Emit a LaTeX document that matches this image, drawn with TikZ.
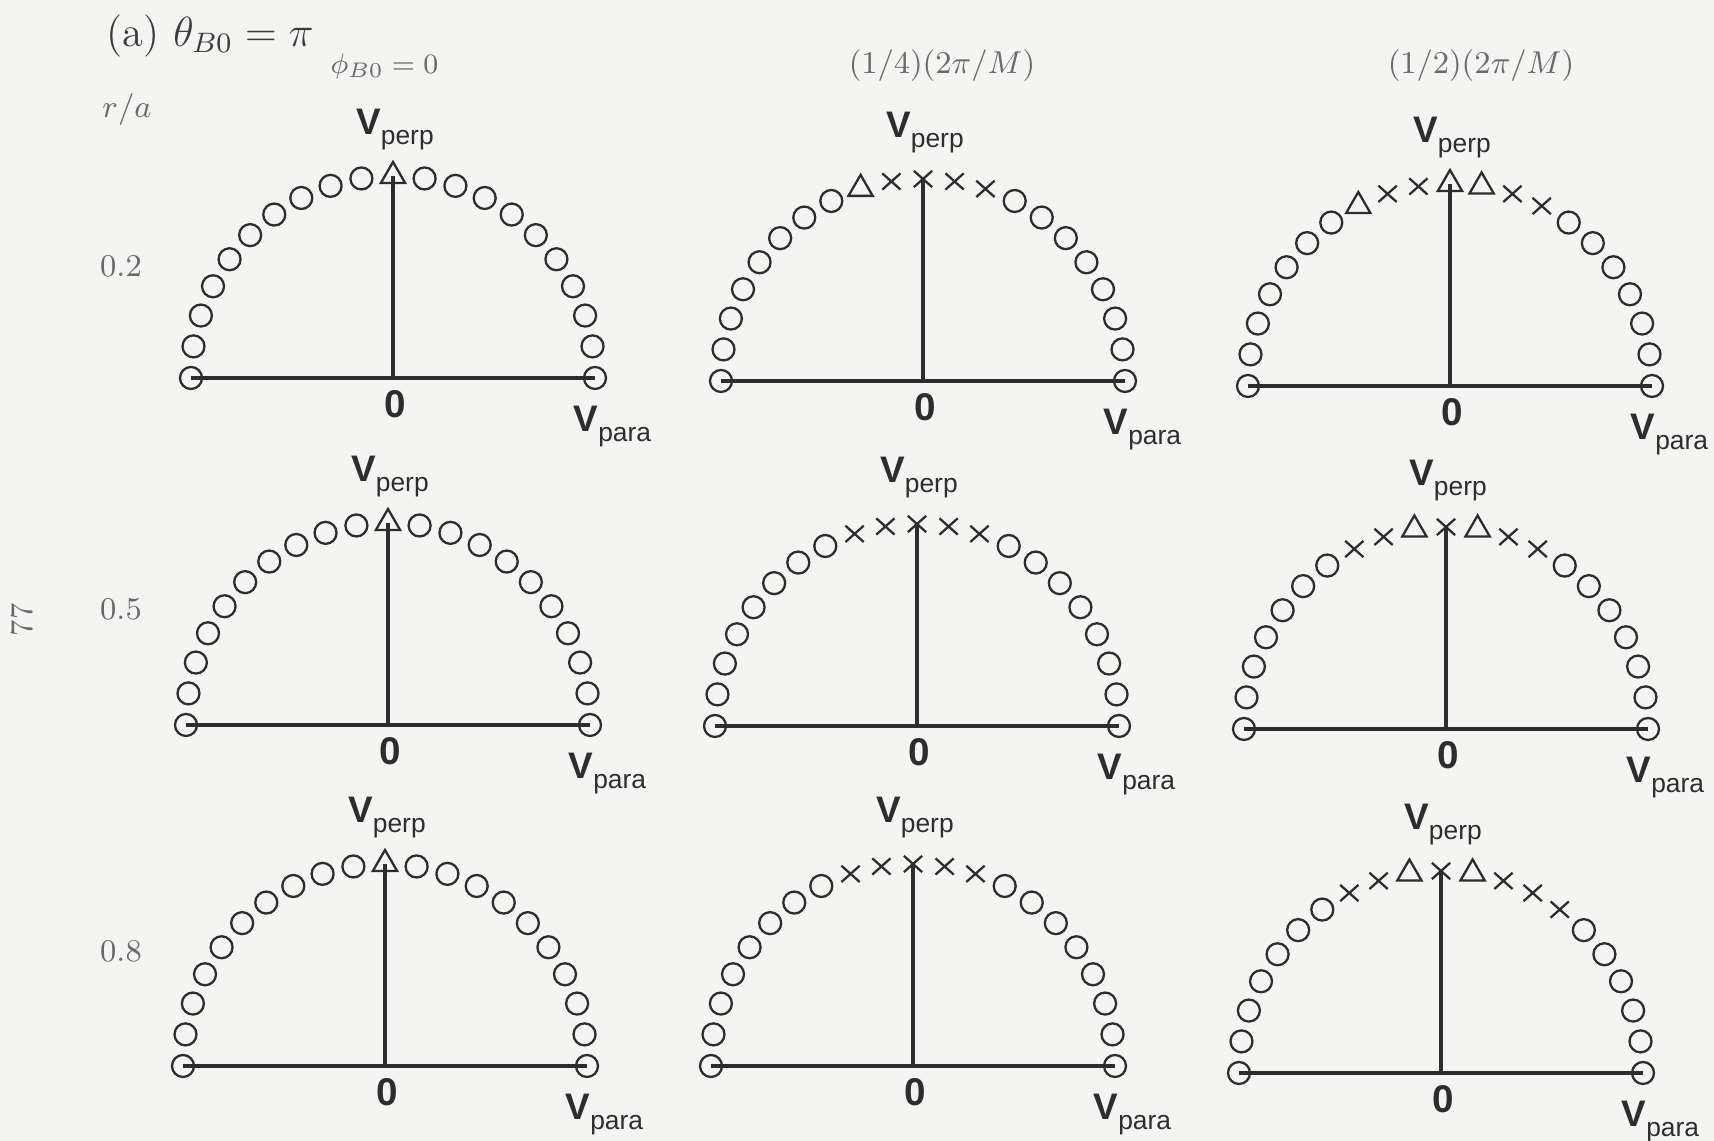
\documentclass[tikz,border=0pt]{standalone}
\usepackage{fontspec}
\usepackage{tikz}
\usetikzlibrary{shapes.geometric,shapes.misc,calc,positioning}
\newfontfamily\labfont{Liberation Sans}
\definecolor{paper}{RGB}{244,244,243}
\definecolor{ink}{RGB}{45,45,45}
\definecolor{headc}{RGB}{60,60,60}
\definecolor{notec}{RGB}{105,105,105}
\newcommand{\vlab}[1]{{\bfseries\fontsize{10.5}{12}\selectfont V}\raisebox{-2.6pt}{\fontsize{7.5}{9}\selectfont #1}}

\begin{document}
\begin{tikzpicture}[
    circ/.style={circle, draw=ink, line width=0.65pt, minimum size=0.22cm, inner sep=0pt},
    tri/.style={regular polygon, regular polygon sides=3, draw=ink, line width=0.65pt,
                minimum size=0.28cm, inner sep=0pt},
    crs/.style={cross out, draw=ink, line width=0.65pt, minimum width=0.16cm,
                minimum height=0.14cm, inner sep=0pt},
    axis/.style={draw=ink, line width=1pt},
    vtxt/.style={font=\labfont, text=ink, inner sep=0pt},
    ztxt/.style={font=\labfont\bfseries\fontsize{11}{13}\selectfont, text=ink, inner sep=0pt},
    note/.style={text=notec, font=\fontsize{9}{11}\selectfont, inner sep=0pt},
  ]
  % Page
  \fill[paper] (0,0) rectangle (17.14,11.41);
  \useasboundingbox (0,0) rectangle (17.14,11.41);

  % Headings
  \node[anchor=west, text=headc, font=\fontsize{12}{14}\selectfont, inner sep=0pt]
    (title) at (1.06,11.05) {(a) $\theta_{B0}=\pi$};
  \node[note, anchor=west, font=\fontsize{8.5}{10}\selectfont] (phi0) at (3.30,10.75) {$\phi_{B0}=0$};
  \node[note] (phi1) at (9.42,10.75) {$(1/4)(2\pi/M)$};
  \node[note] (phi2) at (14.81,10.75) {$(1/2)(2\pi/M)$};
  \node[note] (ra) at (1.27,10.31) {$r/a$};
  \node[note] (r2) at (1.21,8.75) {0.2};
  \node[note] (r5) at (1.21,5.32) {0.5};
  \node[note] (r8) at (1.21,1.90) {0.8};
  \node[note, rotate=90] (page) at (0.22,5.21) {77};

  % Panels
  \foreach \n/\x/\y/\lo/\hi/\syms in {
    p11/3.93/7.63/10/10/{tri},
    p12/9.23/7.60/8/12/{tri,crs,crs,crs,crs},
    p13/14.50/7.55/7/13/{tri,crs,crs,tri,tri,crs,crs},
    p21/3.88/4.16/10/10/{tri},
    p22/9.17/4.15/8/12/{crs,crs,crs,crs,crs},
    p23/14.46/4.12/7/13/{crs,crs,tri,crs,tri,crs,crs},
    p31/3.85/0.75/10/10/{tri},
    p32/9.13/0.75/8/12/{crs,crs,crs,crs,crs},
    p33/14.41/0.68/7/14/{crs,crs,tri,crs,tri,crs,crs,crs}%
  } {
    \coordinate (\n-o) at (\x,\y);
    \pgfmathtruncatemacro{\a}{\lo-1}
    \pgfmathtruncatemacro{\b}{\hi+1}
    \foreach \k in {0,...,\a}
      \node[circ] (\n-\k) at ($(\n-o)+({180-9*\k}:2.02)$) {};
    \foreach \k in {\b,...,20}
      \node[circ] (\n-\k) at ($(\n-o)+({180-9*\k}:2.02)$) {};
    \foreach \s [count=\k from \lo] in \syms
      \node[\s] (\n-\k) at ($(\n-o)+({180-9*\k}:2.02)$) {};
    \draw[axis] (\n-0.center) -- (\n-20.center);
    \draw[axis] (\n-o) -- (\n-10.center);
    \node[vtxt, anchor=base] (\n-vp) at ($(\n-o)+(0.02,2.43)$) {\vlab{perp}};
    \node[vtxt, anchor=base west] (\n-vq) at ($(\n-20.center)+(-0.22,-0.54)$) {\vlab{para}};
    \node[ztxt, anchor=base] (\n-z) at ($(\n-o)+(0.02,-0.40)$) {0};
  }
\end{tikzpicture}
\end{document}
